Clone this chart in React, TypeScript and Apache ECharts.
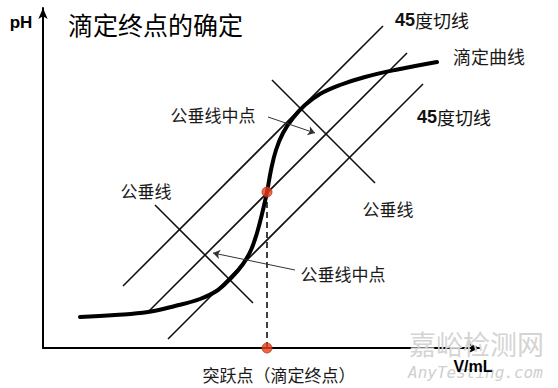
import React, { useEffect, useRef } from "react";
import * as echarts from "echarts";

// Titration curve (V / mL, pH) — schematic units
const titrationCurve: [number, number][] = [
  [3.7, 3.1], [7.2, 3.3], [10.5, 3.6], [13.2, 4.2], [15.7, 4.9], [17.5, 5.8],
  [18.9, 7.1], [20.0, 8.4], [20.8, 9.8], [21.4, 11.5], [21.9, 13.4], [22.4, 15.6],
  [22.8, 17.8], [23.3, 19.8], [24.0, 21.5], [25.0, 23.0], [26.2, 24.3],
  [27.7, 25.4], [29.7, 26.3], [32.2, 27.1], [35.2, 27.8], [39.4, 28.6],
];
const tangentUpper: [number, number][] = [[8.0, 6.2], [34.0, 32.2]];
const middleLine: [number, number][] = [[10.5, 3.6], [36.4, 29.5]];
const tangentLower: [number, number][] = [[12.5, 0.9], [38.0, 26.4]];
const perpUpper: [number, number][] = [[22.9, 26.8], [33.2, 16.5]];
const perpLower: [number, number][] = [[11.2, 14.3], [21.0, 4.5]];
const endpointDrop: [number, number][] = [[22.4, 15.6], [22.4, 0]];
const redPoints: [number, number][] = [[22.4, 15.6], [22.4, 0]];
const arrowUpper: [number, number][] = [[22.5, 23.1], [27.2, 21.5]];
const arrowLower: [number, number][] = [[25.2, 7.8], [17.0, 9.5]];

const axisMax = { x: 43.7, y: 34.0 };

const labelFont = '"Noto Sans CJK SC", sans-serif';

export default function App() {
  const ref = useRef<HTMLDivElement>(null);
  useEffect(() => {
    document.body.style.margin = "0";
    const chart = echarts.init(ref.current!, undefined, { renderer: "svg" });
    const thin = (data: [number, number][], width = 1.6) => ({
      type: "line",
      data,
      symbol: "none",
      lineStyle: { color: "#111", width },
      silent: true,
      z: 2,
    });
    const txt = (x: number, y: number, text: string, size = 17, extra: any = {}) => ({
      type: "text",
      x,
      y,
      style: {
        text,
        font: `${size}px ${labelFont}`,
        fill: "#1a1a1a",
        textAlign: "center",
        textVerticalAlign: "middle",
        ...extra,
      },
      z: 10,
    });
    const rich45 = {
      a: { font: 'bold 18px "Liberation Sans", Arial, sans-serif', fill: "#111" },
      b: { font: `18px ${labelFont}`, fill: "#111" },
    };
    chart.setOption({
      animation: false,
      backgroundColor: "#ffffff",
      grid: { left: 43, right: 78, top: 8, bottom: 40 },
      xAxis: {
        type: "value",
        min: 0,
        max: axisMax.x,
        axisLine: {
          show: true,
          symbol: ["none", "arrow"],
          symbolSize: [7, 11],
          lineStyle: { color: "#000", width: 2 },
        },
        axisTick: { show: false },
        axisLabel: { show: false },
        splitLine: { show: false },
      },
      yAxis: {
        type: "value",
        min: 0,
        max: axisMax.y,
        axisLine: {
          show: true,
          symbol: ["none", "arrow"],
          symbolSize: [7, 11],
          lineStyle: { color: "#000", width: 2 },
        },
        axisTick: { show: false },
        axisLabel: { show: false },
        splitLine: { show: false },
      },
      graphic: [
        { type: "text", left: 409, top: 330, style: { text: "嘉峪检测网", font: `27px ${labelFont}`, fill: "#d4d4d4" }, z: 1 },
        { type: "text", left: 408, top: 364, style: { text: "AnyTesting.com", font: 'italic 16px "DejaVu Sans Mono", monospace', fill: "#cfcfcf" }, z: 1 },
        txt(21, 22, "pH", 17, { font: 'bold 17px "Liberation Sans", Arial, sans-serif', fill: "#000" }),
        txt(68, 24, "滴定终点的确定", 25, { textAlign: "left", fill: "#000" }),
        { type: "text", x: 395, y: 20, style: { text: "{a|45}{b|度切线}", textVerticalAlign: "middle", rich: rich45 }, z: 10 },
        { type: "text", x: 417, y: 117, style: { text: "{a|45}{b|度切线}", textVerticalAlign: "middle", rich: rich45 }, z: 10 },
        txt(453, 56, "滴定曲线", 18, { textAlign: "left" }),
        txt(213, 114, "公垂线中点", 17),
        txt(146, 190, "公垂线", 17),
        txt(388, 208, "公垂线", 17),
        txt(343, 273, "公垂线中点", 17),
        txt(279, 374, "突跃点（滴定终点）", 17),
        txt(473, 366, "V/mL", 16, { font: 'bold 16px "Liberation Sans", Arial, sans-serif', fill: "#000" }),
      ],
      series: [
        thin(tangentUpper),
        thin(middleLine),
        thin(tangentLower),
        thin(perpUpper),
        thin(perpLower),
        {
          type: "line",
          data: endpointDrop,
          symbol: "none",
          lineStyle: { color: "#111", width: 1.6, type: [6, 4] },
          z: 2,
        },
        {
          type: "line",
          data: titrationCurve,
          symbol: "none",
          smooth: 0.4,
          lineStyle: { color: "#000", width: 4, cap: "round", join: "round" },
          z: 3,
        },
        {
          type: "lines",
          coordinateSystem: "cartesian2d",
          symbol: ["none", "arrow"],
          symbolSize: 7,
          lineStyle: { color: "#333", width: 1, opacity: 1 },
          data: [{ coords: arrowUpper }, { coords: arrowLower }],
          z: 4,
        },
        {
          type: "scatter",
          data: redPoints,
          symbolSize: 10,
          itemStyle: { color: "#e8401c", borderColor: "#c0300f", borderWidth: 1 },
          z: 5,
        },
      ],
    });
    return () => chart.dispose();
  }, []);
  return <div ref={ref} style={{ width: 558, height: 388 }} />;
}
